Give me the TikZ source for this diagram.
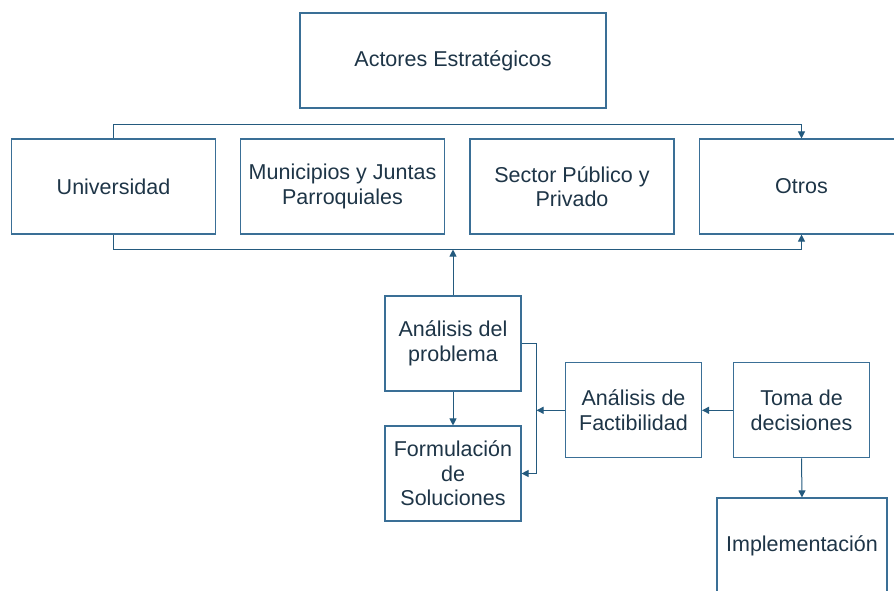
\documentclass[tikz,border=0pt]{standalone}
\usepackage{fontspec}
\setmainfont{Liberation Sans}
\usepackage{xcolor}
\usetikzlibrary{arrows.meta}

\definecolor{boxblue}{HTML}{3A6F96}
\definecolor{lineblue}{HTML}{245A7E}
\definecolor{txtnavy}{HTML}{1E3547}

\tikzset{
  box/.style={draw=boxblue,line width=0.55pt,fill=white,text=txtnavy,align=center,
    minimum width=102pt,minimum height=47.5pt,inner sep=2pt,
    font=\fontsize{10.75}{12.25}\selectfont},
  smallbox/.style={box,minimum width=68pt},
  conn/.style={draw=lineblue,line width=0.5pt,-{Triangle[length=3.5pt,width=3.5pt]}}
}

\begin{document}
\begin{tikzpicture}[x=0.5pt,y=-0.5pt]

\useasboundingbox[fill=white] (0,0) rectangle (894,590);

% actores
\node[box,minimum width=153pt] (actores) at (453,60.5) {Actores Estrat\'egicos};

\node[box] (univ) at (113.5,186.5) {Universidad};
\node[box] (muni) at (342.5,186.5) {Municipios y Juntas\\Parroquiales};
\node[box] (sector) at (572,186.5) {Sector P\'ublico y\\Privado};
\node[box] (otros) at (801.5,186.5) {Otros};

% proceso
\node[smallbox] (prob) at (453,343.5) {An\'alisis del\\problema};
\node[smallbox] (form) at (453,473.5) {Formulaci\'on\\de\\Soluciones};
\node[smallbox] (fact) at (633.5,410.3) {An\'alisis de\\Factibilidad};
\node[smallbox] (toma) at (801.5,410.3) {Toma de\\decisiones};
\node[box,minimum width=85pt] (impl) at (802,545.5) {Implementaci\'on};

\draw[conn] (univ.north) -- ++(0,-14) -| (otros.north);
\draw[conn] (univ.south) -- ++(0,15) coordinate (bus) -| (otros.south);
\draw[conn] (prob.north) -- (prob.north |- bus);

\draw[conn] (prob.south) -- (form.north);
\draw[conn] (prob.east) -- ++(15,0) coordinate (brk) |- (form.east);
\draw[conn] (fact.west) -- (fact.west -| brk);
\draw[conn] (toma.west) -- (fact.east);
\draw[conn] (toma.south) -- (impl.north);

\end{tikzpicture}
\end{document}
